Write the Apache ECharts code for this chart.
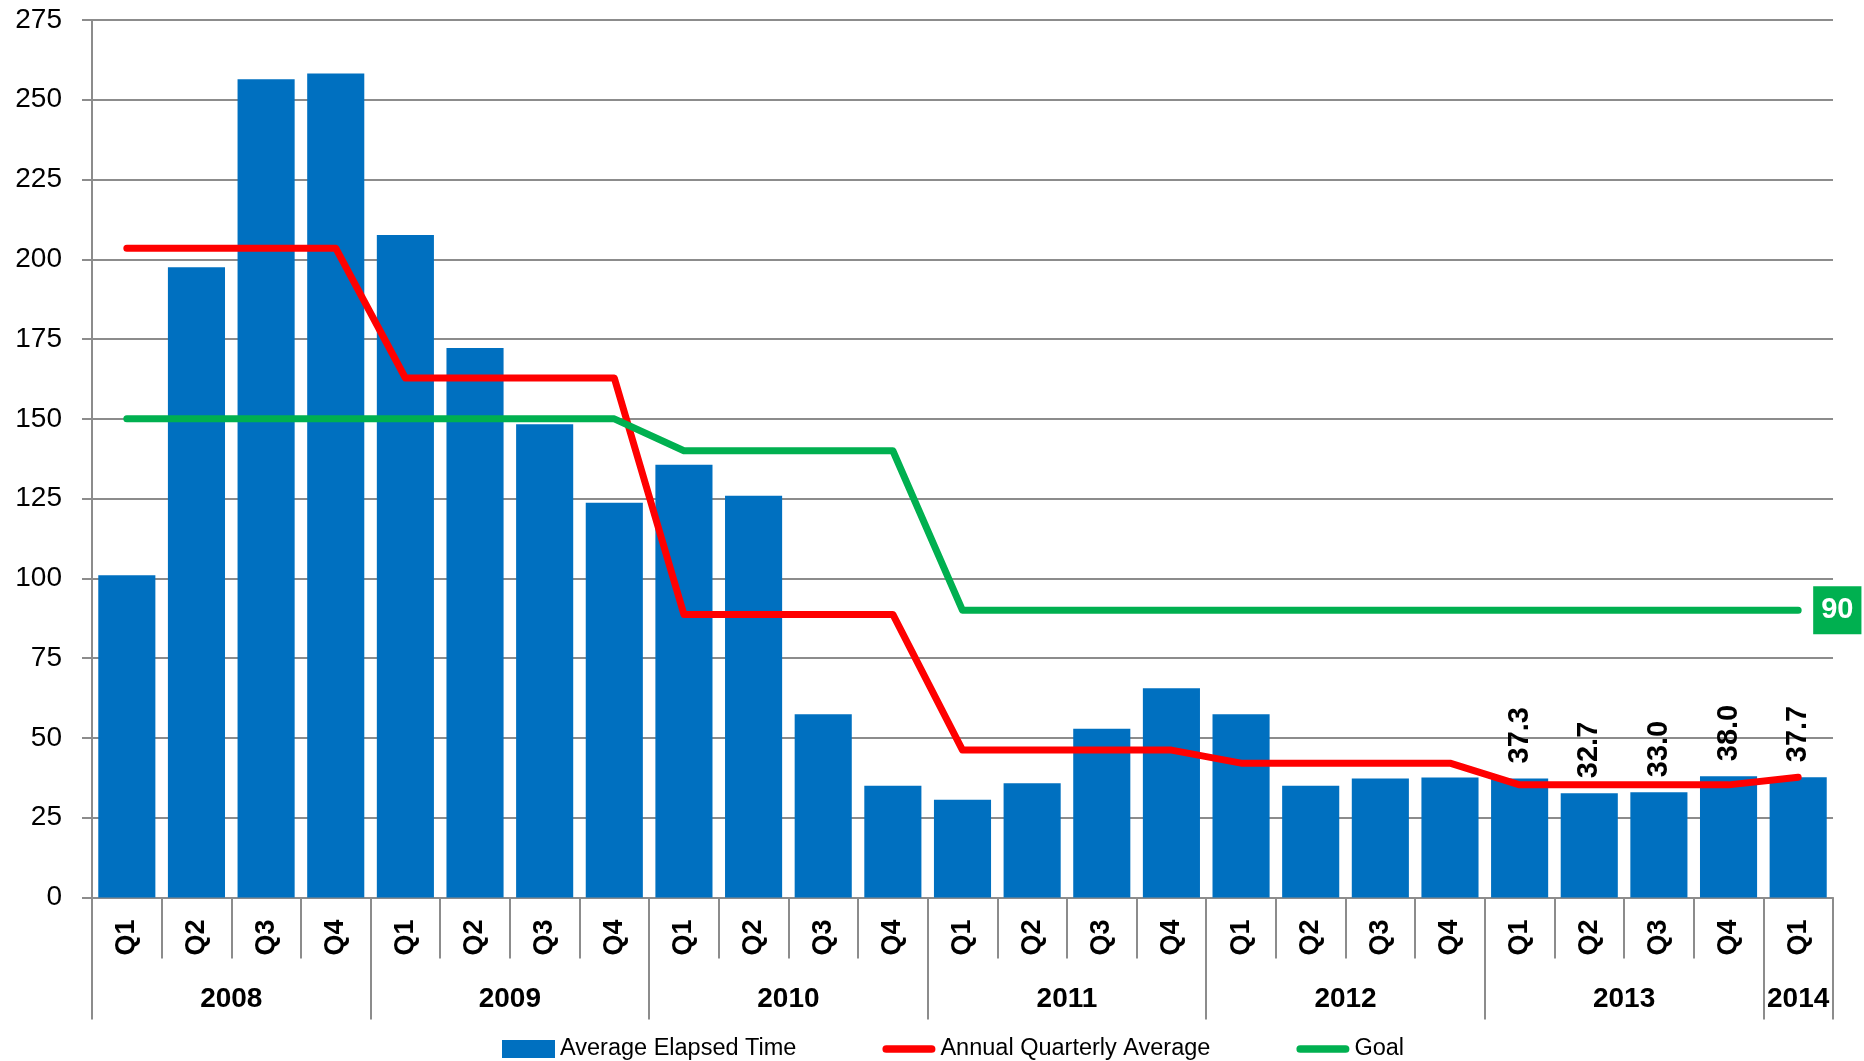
<!DOCTYPE html>
<html>
<head>
<meta charset="utf-8">
<script src="https://cdn.jsdelivr.net/npm/echarts@6/dist/echarts.min.js"></script>
<style>
html,body{margin:0;padding:0;background:#fff;}
#chart{width:1864px;height:1061px;}
</style>
</head>
<body>
<div id="chart"></div>
<script>
// ---- data ----
const quarters = ['Q1','Q2','Q3','Q4','Q1','Q2','Q3','Q4','Q1','Q2','Q3','Q4','Q1','Q2','Q3','Q4','Q1','Q2','Q3','Q4','Q1','Q2','Q3','Q4','Q1'];
const quarterYears = ['2008','2008','2008','2008','2009','2009','2009','2009','2010','2010','2010','2010','2011','2011','2011','2011','2012','2012','2012','2012','2013','2013','2013','2013','2014'];
const elapsedTime = [101.0,197.5,256.4,258.2,207.6,172.2,148.3,123.7,135.6,125.9,57.4,35.0,30.6,35.8,52.9,65.6,57.4,35.0,37.3,37.6,37.3,32.7,33.0,38.0,37.7];
const annualAverage = [203.5,203.5,203.5,203.5,162.8,162.8,162.8,162.8,88.7,88.7,88.7,88.7,46.2,46.2,46.2,46.2,42.1,42.1,42.1,42.1,35.3,35.3,35.3,35.3,37.7];
const goal = [150,150,150,150,150,150,150,150,140,140,140,140,90,90,90,90,90,90,90,90,90,90,90,90,90];
const labelledFrom = 20; // bars from 2013 Q1 carry value labels
const yTicks = {min:0, max:275, interval:25};

// ---- derived helpers ----
const groups = [];
quarterYears.forEach((y, i) => {
  if (!groups.length || groups[groups.length-1].year !== y) groups.push({year:y, start:i, len:1});
  else groups[groups.length-1].len++;
});
const yearLabelAt = {};
const yearStartIdx = new Set();
groups.forEach(g => {
  yearStartIdx.add(g.start);
  if (g.len % 2 === 0) yearLabelAt[g.start + g.len/2 - 1] = '{s|' + g.year + '}';
  else yearLabelAt[g.start + (g.len-1)/2] = '{c|' + g.year + '}';
});

const FONT = 'Liberation Sans';
const GRID_LEFT = 92, GRID_RIGHT = 31;
const catW = (1864 - GRID_LEFT - GRID_RIGHT) / quarters.length;
const lineIcon = 'path://M4,0H51A4,4,0,0,1,51,8H4A4,4,0,0,1,4,0Z';

const chart = echarts.init(document.getElementById('chart'), null, {renderer:'canvas'});
const option = {
  animation: false,
  backgroundColor: '#ffffff',
  textStyle: {fontFamily: FONT, color: '#000'},
  grid: {left: GRID_LEFT, right: GRID_RIGHT, top: 20, bottom: 163.5, containLabel: false},
  legend: {
    left: 502, top: 1037, padding: 0,
    itemWidth: 53, itemHeight: 18, itemGap: 86,
    symbolKeepAspect: true,
    textStyle: {fontFamily: FONT, fontSize: 23.5, color: '#000'},
    data: [
      {name: 'Average Elapsed Time', icon: 'rect'},
      {name: 'Annual Quarterly Average', icon: lineIcon},
      {name: 'Goal', icon: lineIcon}
    ]
  },
  xAxis: [
    {
      type: 'category', data: quarters, position: 'bottom',
      boundaryGap: true,
      axisLine: {show: true, lineStyle: {color: '#8c8c8c', width: 2}},
      axisTick: {show: true, length: 61, interval: 0, lineStyle: {color: '#8c8c8c', width: 2}},
      axisLabel: {interval: 0, rotate: 90, margin: 22, fontFamily: FONT, fontSize: 27, fontWeight: 'bold', color: '#000'},
      splitLine: {show: false}
    },
    {
      type: 'category', data: quarterYears, position: 'bottom',
      boundaryGap: true,
      axisLine: {show: false},
      axisTick: {show: true, length: 122, interval: (idx) => yearStartIdx.has(idx), lineStyle: {color: '#8c8c8c', width: 2}},
      axisLabel: {
        interval: 0, margin: 88, fontFamily: FONT, fontSize: 28, fontWeight: 'bold', color: '#000',
        formatter: (v, idx) => yearLabelAt[idx] || '',
        rich: {
          s: {fontFamily: FONT, fontSize: 28, fontWeight: 'bold', color: '#000', padding: [0, 0, 0, catW]},
          c: {fontFamily: FONT, fontSize: 28, fontWeight: 'bold', color: '#000'}
        }
      },
      splitLine: {show: false}
    }
  ],
  yAxis: {
    type: 'value', min: yTicks.min, max: yTicks.max, interval: yTicks.interval,
    axisLine: {show: true, lineStyle: {color: '#8c8c8c', width: 2}},
    axisTick: {show: true, length: 10, lineStyle: {color: '#8c8c8c', width: 2}},
    axisLabel: {margin: 30, fontFamily: FONT, fontSize: 28, color: '#000'},
    splitLine: {show: true, lineStyle: {color: '#8c8c8c', width: 2}}
  },
  series: [
    {
      name: 'Average Elapsed Time', type: 'bar', xAxisIndex: 0,
      barCategoryGap: '18%',
      itemStyle: {color: '#0070C0'},
      data: elapsedTime.map((v, i) => i >= labelledFrom ? {value: v, label: {show: true}} : v),
      label: {
        show: false, position: 'top', rotate: 90, align: 'left', verticalAlign: 'middle', distance: 15,
        fontFamily: FONT, fontSize: 29, fontWeight: 'bold', color: '#000',
        formatter: (p) => Number(p.value).toFixed(1)
      },
      z: 2
    },
    {
      name: 'Annual Quarterly Average', type: 'line', xAxisIndex: 0,
      data: annualAverage, symbol: 'none', smooth: false,
      lineStyle: {color: '#FF0000', width: 7, cap: 'round', join: 'round'},
      itemStyle: {color: '#FF0000'},
      z: 3
    },
    {
      name: 'Goal', type: 'line', xAxisIndex: 0,
      data: goal, symbol: 'none', smooth: false,
      lineStyle: {color: '#00B050', width: 7, cap: 'round', join: 'round'},
      itemStyle: {color: '#00B050'},
      endLabel: {
        show: true, distance: 15,
        backgroundColor: '#00B050', color: '#fff', fontFamily: FONT, fontSize: 29, fontWeight: 'bold',
        padding: [11, 8, 8, 8], formatter: (p) => String(p.value)
      },
      z: 4
    }
  ]
};
chart.setOption(option);
</script>
</body>
</html>
